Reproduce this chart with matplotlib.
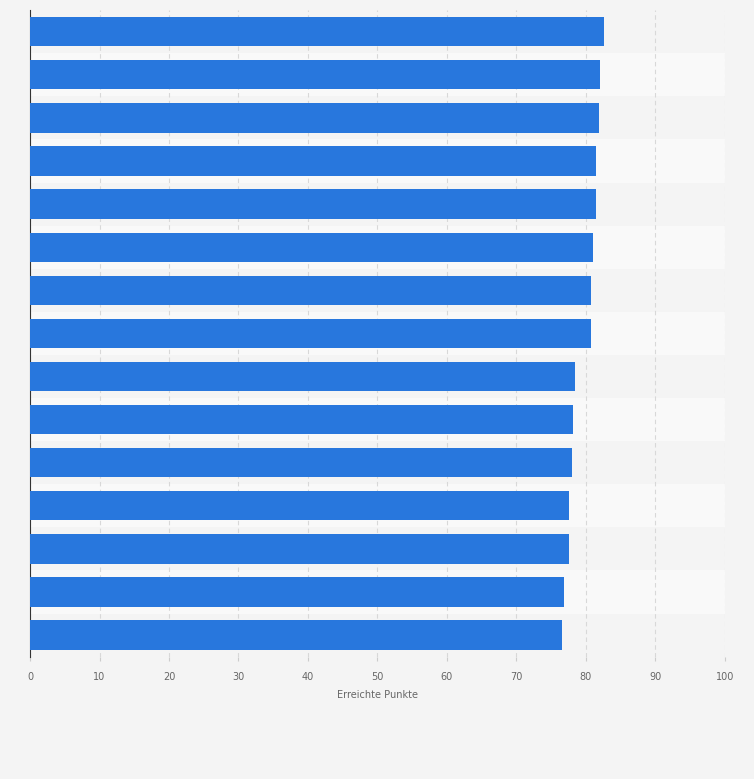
import matplotlib
matplotlib.use("Agg")
import matplotlib.pyplot as plt

values = [82.6, 82.0, 81.9, 81.4, 81.4, 81.0, 80.7, 80.7, 78.4, 78.1, 78.0, 77.6, 77.6, 76.8, 76.5]
xticks = [0, 10, 20, 30, 40, 50, 60, 70, 80, 90, 100]

fig = plt.figure(figsize=(7.54, 7.79), dpi=100, facecolor="#f4f4f4")
ax = fig.add_axes([0.0398, 0.157, 0.9217, 0.830])
ax.set_facecolor("#f4f4f4")
n = len(values)
ys = list(range(n))
for i in ys:
    if i % 2 == 1:
        ax.axhspan(i - 0.5, i + 0.5, color="#f9f9f9", zorder=0, lw=0)
ax.barh(ys, values, height=0.68, color="#2877dd", zorder=3)
ax.set_ylim(n - 0.5, -0.5)
ax.set_xlim(0, 100)
ax.set_xticks(xticks)
ax.set_xticklabels([str(t) for t in xticks], fontsize=7, color="#666666")
ax.set_yticks([])
ax.grid(axis="x", color="#d8d8d8", linestyle=(0, (4, 3)), lw=0.8, zorder=1)
for s in ["top", "right", "bottom"]:
    ax.spines[s].set_visible(False)
ax.spines["left"].set_color("#333333")
ax.tick_params(axis="x", length=3, color="#cccccc", pad=8)
ax.set_xlabel("Erreichte Punkte", fontsize=7, color="#666666", labelpad=6)
fig.savefig("out.png", dpi=100, facecolor=fig.get_facecolor())
